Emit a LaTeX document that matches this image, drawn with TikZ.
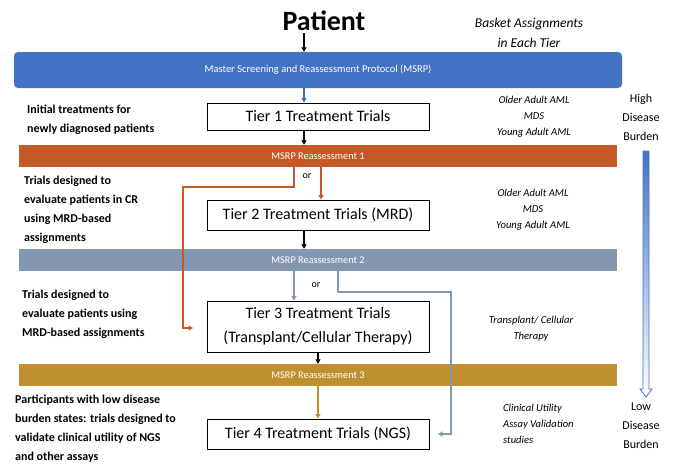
\documentclass[tikz,border=0pt]{standalone}
\usepackage{fontspec}
\setmainfont{Carlito}
\usetikzlibrary{arrows.meta,calc}
\definecolor{msrpblue}{RGB}{68,114,196}
\definecolor{rorange}{RGB}{197,90,40}
\definecolor{rgray}{RGB}{132,151,176}
\definecolor{rgold}{RGB}{191,144,48}
\definecolor{arrblue}{RGB}{46,117,182}
\begin{document}
\begin{tikzpicture}[x=1pt,y=-1pt,
  bar/.style={minimum width=598pt,minimum height=22pt,inner sep=0pt,text=white,font=\fontsize{10.3}{12}\selectfont},
  tier/.style={draw=black,line width=0.9pt,fill=white,minimum width=222pt,inner sep=0pt,font=\fontsize{16}{24}\selectfont,align=center},
  lefttxt/.style={anchor=west,align=left,font=\bfseries\fontsize{12}{19}\selectfont,inner sep=0pt},
  basket/.style={align=center,font=\itshape\fontsize{10.6}{16}\selectfont,inner sep=0pt},
  burden/.style={align=center,font=\fontsize{12}{19}\selectfont,inner sep=0pt},
  ortxt/.style={font=\fontsize{10}{12}\selectfont,inner sep=0pt},
  tip/.style={-{Triangle[width=5pt,length=4.5pt]}},
  blk/.style={tip,line width=1.3pt,black},
  col/.style={tip,line width=1.8pt,draw=#1}
]
\useasboundingbox (0,0) rectangle (674,466);

% title
\node[font=\bfseries\fontsize{28}{30}\selectfont,inner sep=2pt] (patient) at (324,21) {Patient};
\node[font=\itshape\fontsize{13.5}{20}\selectfont,align=center,inner sep=0pt] (basket) at (529,33) {Basket Assignments\\in Each Tier};

% bars
\node[fill=msrpblue,rounded corners=4pt,minimum width=608pt,minimum height=36pt,inner sep=0pt,text=white,font=\fontsize{10.5}{12}\selectfont] (msrp) at (318,70) {Master Screening and Reassessment Protocol (MSRP)};
\node[bar,fill=rorange] (bar1) at (318,156) {MSRP Reassessment 1};
\node[bar,fill=rgray] (bar2) at (318,260) {MSRP Reassessment 2};
\node[bar,fill=rgold] (bar3) at (318,375) {MSRP Reassessment 3};

% tiers
\node[tier,minimum height=27pt] (tier1) at (318,116.5) {Tier 1 Treatment Trials};
\node[tier,minimum height=30pt] (tier2) at (318,215) {Tier 2 Treatment Trials (MRD)};
\node[tier,minimum height=51pt] (tier3) at (318,326.5) {Tier 3 Treatment Trials\\(Transplant/Cellular Therapy)};
\node[tier,minimum height=30pt] (tier4) at (318,434) {Tier 4 Treatment Trials (NGS)};

% left descriptions
\node[lefttxt] (d1) at (27,119.5) {Initial treatments for\\newly diagnosed patients};
\node[lefttxt] (d2) at (24,210) {Trials designed to\\evaluate patients in CR\\using MRD-based\\assignments};
\node[lefttxt] (d3) at (22,314) {Trials designed to\\evaluate patients using\\MRD-based assignments};
\node[lefttxt] (d4) at (15,428.5) {Participants with low disease\\burden states: trials designed to\\validate clinical utility of NGS\\and other assays};

% right basket texts
\node[basket] (b1) at (534,117) {Older Adult AML\\MDS\\Young Adult AML};
\node[basket] (b2) at (533,210) {Older Adult AML\\MDS\\Young Adult AML};
\node[basket] (b3) at (531,329) {Transplant/ Cellular\\Therapy};
\node[basket,align=left,anchor=west] (b4) at (503,424) {Clinical Utility\\Assay Validation\\studies};

% burden
\node[burden] (high) at (641,117.5) {High\\Disease\\Burden};
\node[burden] (low) at (641,425.5) {Low\\Disease\\Burden};
\path[draw=msrpblue,line width=0.8pt,top color=msrpblue,bottom color=white]
  (643,151) -- (649,151) -- (649,389) -- (652,389) -- (646,397) -- (640,389) -- (643,389) -- cycle;

% or labels
\node[ortxt] (or1) at (307,176) {or};
\node[ortxt] (or2) at (316,285) {or};

% connector helper coordinates
\coordinate (x304) at (304,0);
\coordinate (x321) at (321,0);
\coordinate (x294) at (294,0);
\coordinate (o1) at (294,187);
\coordinate (o2) at (183,187);
\coordinate (oend) at (193,328);
\coordinate (g1) at (338,292);
\coordinate (g2) at (451,292);
\coordinate (gend) at (438,434);

% connectors
\draw[blk] (patient.south -| x304) -- (msrp.north -| x304);
\draw[tip,line width=1.5pt,arrblue] (msrp.south -| x304) -- (tier1.north -| x304);
\draw[blk] (tier1.south -| x304) -- (bar1.north -| x304);
\draw[col=rorange] (bar1.south -| x321) -- (tier2.north -| x321);
\draw[col=rorange] (bar1.south -| o1) -- (o1) -- (o2) |- (oend);
\draw[blk] (tier2.south -| x304) -- (bar2.north -| x304);
\draw[col=rgray] (bar2.south -| x294) -- (tier3.north -| x294);
\draw[col=rgray] (bar2.south -| g1) -- (g1) -- (g2) |- (gend);
\draw[blk] (tier3.south) -- (bar3.north);
\draw[col=rgold] (bar3.south) -- (tier4.north);
\end{tikzpicture}
\end{document}
